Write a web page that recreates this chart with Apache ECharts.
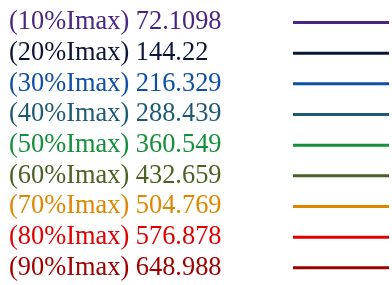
<!DOCTYPE html>
<html>
<head>
<meta charset="utf-8">
<style>
  html, body { margin: 0; padding: 0; background: #fff; }
  #chart { width: 392px; height: 285px; }
</style>
<script src="https://cdn.jsdelivr.net/npm/echarts@6/dist/echarts.min.js"></script>
</head>
<body>
<div id="chart"></div>
<script>
// legend entries: fraction of Imax and the value shown next to it
const levels = ['10%', '20%', '30%', '40%', '50%', '60%', '70%', '80%', '90%']
const values = ['72.1098', '144.22', '216.329', '288.439', '360.549', '432.659', '504.769', '576.878', '648.988']
const colors = ['#4b2582', '#0b1634', '#0f4fa6', '#1e5a76', '#14903a', '#4a6224', '#e08700', '#e00000', '#a00000']

const names = levels.map((l, i) => '(' + l + 'Imax) ' + values[i])

const chart = echarts.init(document.getElementById('chart'))

const series = names.map((name, i) => ({
  name: name,
  type: 'line',
  data: [],
  itemStyle: { color: colors[i] },
  lineStyle: { color: colors[i], width: 3 }
}))

chart.setOption({
  animation: false,
  backgroundColor: '#fff',
  grid: { show: false, left: -10, top: -10, width: 1, height: 1 },
  xAxis: { show: false, type: 'value' },
  yAxis: { show: false, type: 'value' },
  legend: {
    orient: 'vertical',
    left: 9,
    top: 7.5,
    align: 'right',
    padding: 0,
    itemGap: 0.67,
    itemWidth: 96,
    itemHeight: 3,
    icon: 'rect',
    selectedMode: false,
    data: names.map((name, i) => ({
      name: name,
      textStyle: { color: colors[i] }
    })),
    formatter: name => '{t|' + name + '}',
    textStyle: {
      fontFamily: '"Liberation Serif", serif',
      fontSize: 26.4,
      lineHeight: 30,
      padding: 0,
      rich: {
        t: {
          fontFamily: '"Liberation Serif", serif',
          fontSize: 26.4,
          lineHeight: 30,
          width: 279,
          align: 'left'
        }
      }
    }
  },
  series: series
})
</script>
</body>
</html>
